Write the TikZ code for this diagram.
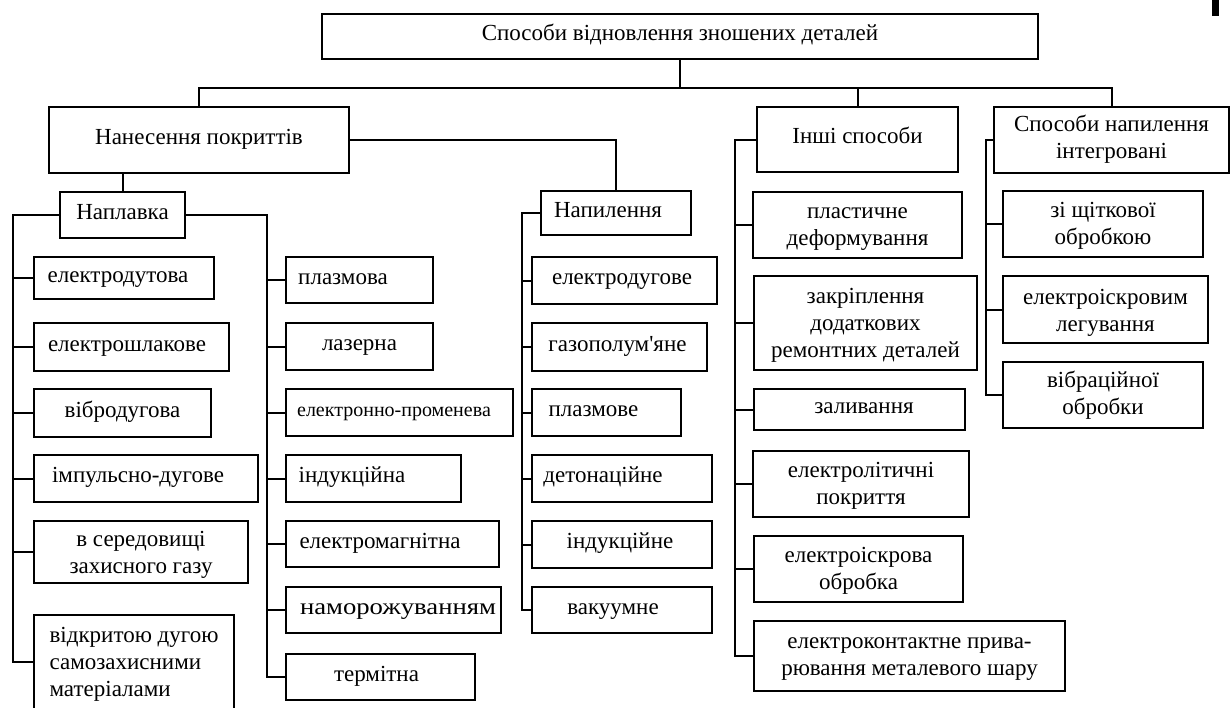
\documentclass[tikz,border=0pt]{standalone}
\usepackage{fontspec}
\setmainfont{Liberation Serif}[Ligatures=TeXOff]
\newcommand{\bstrut}{\rule[-9pt]{0pt}{26pt}}
\newcommand{\dn}[1]{\rule{0pt}{\numexpr17+2*#1\relax pt}}
\newcommand{\bx}[8][]{\node[bx, minimum width={#5-#3}, minimum height={#6-#4}, #1] (#2) at ({(#3+#5)/2},{(#4+#6)/2}) {\bstrut#8\hspace*{#7pt}\bstrut};}
\begin{document}
\begin{tikzpicture}[x=1pt,y=-1pt,
  bx/.style={draw, line width=2.2pt, inner sep=0pt, align=center, font=\fontsize{23}{27}\selectfont},
  ln/.style={line width=2pt}]
\useasboundingbox (0,0) rectangle (1230,707);
\clip (0,0) rectangle (1230,707);
% top level
\bx{top}{322}{14}{1038}{59}{0}{Способи відновлення зношених деталей}
\bx{nan}{49}{107}{349}{173}{0}{Нанесення покриттів}
\bx{ins}{757}{107}{958}{172}{0}{Інші способи}
\bx{spi}{994}{107}{1229}{173}{0}{\dn{1}Способи напилення\\інтегровані}
\bx{npl}{60}{192}{185}{238}{0}{Наплавка}
\bx{nap}{541}{191}{691}{235}{16}{Напилення}
% Наплавка, left column
\bx{a1}{34}{257}{214}{299}{12}{електродутова}
\bx{a2}{34}{323}{229}{371}{9}{електрошлакове}
\bx{a3}{34}{389}{211}{437}{0}{вібродугова}
\bx{a4}{34}{455}{258}{502}{16}{імпульсно-дугове}
\bx{a5}{34}{521}{248}{583}{0}{\dn{4}в середовищі\\захисного газу}
\bx[align=left]{a6}{34}{615}{234}{709}{0}{\dn{3}відкритою дугою\\самозахисними\\матеріалами}
% Наплавка, right column
\bx{b1}{286}{257}{433}{303}{33}{плазмова}
\bx{b2}{286}{323}{433}{370}{0}{лазерна}
\bx[font=\fontsize{20}{24}\selectfont]{b3}{286}{389}{513}{436}{11}{електронно-променева}
\bx{b4}{286}{455}{461}{502}{43}{індукційна}
\bx{b5}{286}{521}{499}{567}{25}{електромагнітна}
\bx{b6}{286}{587}{501}{633}{-9}{\scalebox{1.16}[1]{наморожуванням}}
\bx{b7}{286}{654}{475}{700}{8}{термітна}
% Напилення
\bx{c1}{532}{257}{717}{304}{5}{електродугове}
\bx{c2}{532}{323}{707}{371}{4}{газополум'яне}
\bx{c3}{532}{389}{681}{436}{26}{плазмове}
\bx{c4}{532}{455}{712}{502}{38}{детонаційне}
\bx{c5}{532}{521}{712}{568}{4}{індукційне}
\bx{c6}{532}{587}{712}{633}{18}{вакуумне}
% Інші способи
\bx{d1}{753}{192}{962}{258}{0}{\dn{3}пластичне\\деформування}
\bx{d2}{754}{276}{977}{370}{0}{\dn{3}закріплення\\додаткових\\ремонтних деталей}
\bx{d3}{754}{389}{965}{430}{-9}{заливання}
\bx{d4}{753}{451}{969}{517}{0}{\dn{3}електролітичні\\покриття}
\bx{d5}{754}{536}{963}{602}{0}{\dn{3}електроіскрова\\обробка}
\bx{d6}{754}{621}{1065}{691}{0}{\dn{2}електроконтактне прива-\\рювання металевого шару}
% Способи напилення інтегровані
\bx{e1}{1003}{191}{1203}{257}{0}{\dn{3}зі щіткової\\обробкою}
\bx{e2}{1003}{276}{1208}{343}{0}{\dn{4}електроіскровим\\легування}
\bx{e3}{1003}{362}{1203}{428}{0}{\dn{2}вібраційної\\обробки}
% connectors
\path (top.south) ++(0,28) coordinate (bus0);
\coordinate (la) at (13,0);
\coordinate (lb) at (267,0);
\coordinate (lc) at (522,0);
\coordinate (ld) at (735,0);
\coordinate (le) at (986,0);
\draw[ln] (top.south) -- (bus0);
\draw[ln] (nan.north) |- (bus0) -| (spi.north);
\draw[ln] (ins.north) -- (ins.north |- bus0);
\draw[ln] (nan.east) -| (nap.north);
\draw[ln] (nan.south -| npl.north) -- (npl.north);
\draw[ln] (npl.west) -| (la |- a6.west) -- (a6.west);
\foreach \n in {a1,a2,a3,a4,a5} \draw[ln] (\n.west) -- (la |- \n.west);
\draw[ln] (npl.east) -| (lb |- b7.west) -- (b7.west);
\foreach \n in {b1,b2,b3,b4,b5,b6} \draw[ln] (\n.west) -- (lb |- \n.west);
\draw[ln] (nap.west) -| (lc |- c6.west) -- (c6.west);
\foreach \n in {c1,c2,c3,c4,c5} \draw[ln] (\n.west) -- (lc |- \n.west);
\draw[ln] (ins.west) -| (ld |- d6.west) -- (d6.west);
\foreach \n in {d1,d2,d3,d4,d5} \draw[ln] (\n.west) -- (ld |- \n.west);
\draw[ln] (spi.west) -| (le |- e3.west) -- (e3.west);
\foreach \n in {e1,e2} \draw[ln] (\n.west) -- (le |- \n.west);
% corner mark
\fill (1212,0) rectangle (1219,16);
\end{tikzpicture}
\end{document}
